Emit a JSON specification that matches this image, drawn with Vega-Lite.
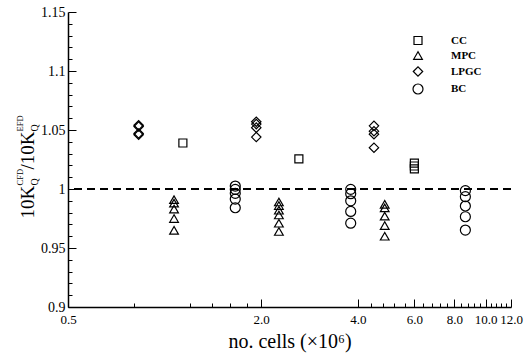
{
  "$schema": "https://vega.github.io/schema/vega-lite/v6.json",
  "width": 443,
  "height": 295,
  "autosize": {"type": "none"},
  "padding": {"left": 68, "top": 12, "right": 16, "bottom": 53},
  "config": {
    "view": {"stroke": null},
    "font": "Liberation Serif",
    "axis": {
      "domainColor": "black",
      "domainWidth": 1.5,
      "tickColor": "black",
      "tickWidth": 1,
      "grid": false,
      "labelFont": "Liberation Serif",
      "labelColor": "black",
      "titleFont": "Liberation Serif",
      "titleColor": "black",
      "titleFontWeight": "normal"
    },
    "legend": {"labelFont": "Liberation Serif"}
  },
  "data": {
    "values": [
      {"cells": 0.83, "ratio": 1.054, "method": "LPGC"},
      {"cells": 0.83, "ratio": 1.053, "method": "LPGC"},
      {"cells": 0.83, "ratio": 1.047, "method": "LPGC"},
      {"cells": 0.83, "ratio": 1.046, "method": "LPGC"},
      {"cells": 1.14, "ratio": 1.039, "method": "CC"},
      {"cells": 1.07, "ratio": 0.991, "method": "MPC"},
      {"cells": 1.07, "ratio": 0.988, "method": "MPC"},
      {"cells": 1.07, "ratio": 0.983, "method": "MPC"},
      {"cells": 1.07, "ratio": 0.975, "method": "MPC"},
      {"cells": 1.07, "ratio": 0.965, "method": "MPC"},
      {"cells": 1.66, "ratio": 1.0025, "method": "BC"},
      {"cells": 1.66, "ratio": 0.9997, "method": "BC"},
      {"cells": 1.66, "ratio": 0.9963, "method": "BC"},
      {"cells": 1.66, "ratio": 0.9915, "method": "BC"},
      {"cells": 1.66, "ratio": 0.9841, "method": "BC"},
      {"cells": 1.93, "ratio": 1.057, "method": "LPGC"},
      {"cells": 1.93, "ratio": 1.055, "method": "LPGC"},
      {"cells": 1.93, "ratio": 1.052, "method": "LPGC"},
      {"cells": 1.93, "ratio": 1.044, "method": "LPGC"},
      {"cells": 2.62, "ratio": 1.0255, "method": "CC"},
      {"cells": 2.27, "ratio": 0.989, "method": "MPC"},
      {"cells": 2.27, "ratio": 0.986, "method": "MPC"},
      {"cells": 2.27, "ratio": 0.982, "method": "MPC"},
      {"cells": 2.27, "ratio": 0.978, "method": "MPC"},
      {"cells": 2.27, "ratio": 0.971, "method": "MPC"},
      {"cells": 2.27, "ratio": 0.964, "method": "MPC"},
      {"cells": 3.8, "ratio": 0.9997, "method": "BC"},
      {"cells": 3.8, "ratio": 0.996, "method": "BC"},
      {"cells": 3.8, "ratio": 0.99, "method": "BC"},
      {"cells": 3.8, "ratio": 0.981, "method": "BC"},
      {"cells": 3.8, "ratio": 0.971, "method": "BC"},
      {"cells": 4.49, "ratio": 1.0535, "method": "LPGC"},
      {"cells": 4.49, "ratio": 1.049, "method": "LPGC"},
      {"cells": 4.49, "ratio": 1.0465, "method": "LPGC"},
      {"cells": 4.49, "ratio": 1.035, "method": "LPGC"},
      {"cells": 4.85, "ratio": 0.987, "method": "MPC"},
      {"cells": 4.85, "ratio": 0.984, "method": "MPC"},
      {"cells": 4.85, "ratio": 0.977, "method": "MPC"},
      {"cells": 4.85, "ratio": 0.969, "method": "MPC"},
      {"cells": 4.85, "ratio": 0.96, "method": "MPC"},
      {"cells": 6.0, "ratio": 1.022, "method": "CC"},
      {"cells": 6.0, "ratio": 1.0195, "method": "CC"},
      {"cells": 6.0, "ratio": 1.017, "method": "CC"},
      {"cells": 8.65, "ratio": 0.9986, "method": "BC"},
      {"cells": 8.65, "ratio": 0.9935, "method": "BC"},
      {"cells": 8.65, "ratio": 0.9856, "method": "BC"},
      {"cells": 8.65, "ratio": 0.9765, "method": "BC"},
      {"cells": 8.65, "ratio": 0.9652, "method": "BC"}
    ]
  },
  "layer": [
    {
      "mark": {"type": "rule", "strokeDash": [8, 5], "strokeWidth": 2, "color": "black"},
      "encoding": {
        "y": {"datum": 1, "type": "quantitative", "axis": null}
      }
    },
    {
      "mark": {"type": "point", "filled": false, "color": "black", "strokeWidth": 1.2, "opacity": 1},
      "encoding": {
        "x": {
          "field": "cells",
          "type": "quantitative",
          "scale": {"type": "log", "domain": [0.5, 12], "nice": false},
          "axis": {
            "orient": "bottom",
            "values": [0.5, 2, 4, 6, 8, 10, 12],
            "format": ".1f",
            "ticks": false,
            "tickSize": 0,
            "labelPadding": 6,
            "labelFont": "Liberation Serif",
            "labelFontSize": 13,
            "labelColor": "black",
            "labelFlush": false,
            "labelOverlap": false,
            "title": "no. cells (×10⁶)",
            "titleFont": "Liberation Serif",
            "titleFontSize": 20,
            "titleColor": "black",
            "titlePadding": 5
          }
        },
        "y": {
          "field": "ratio",
          "type": "quantitative",
          "scale": {"domain": [0.9, 1.15], "nice": false, "zero": false},
          "axis": {
            "orient": "left",
            "values": [0.9, 0.95, 1, 1.05, 1.1, 1.15],
            "format": "~g",
            "ticks": false,
            "tickSize": 0,
            "labelPadding": 3,
            "labelFont": "Liberation Serif",
            "labelFontSize": 14,
            "labelColor": "black",
            "labelOverlap": false,
            "labelFlush": false,
            "title": "10K",
            "titleFont": "Liberation Serif",
            "titleFontSize": 19,
            "titleAngle": 270,
            "titleAlign": "left",
            "titleBaseline": "alphabetic",
            "titleX": -35,
            "titleY": 206
          }
        },
        "shape": {
          "field": "method",
          "type": "nominal",
          "scale": {"domain": ["CC", "MPC", "LPGC", "BC"], "range": ["square", "triangle-up", "diamond", "circle"]},
          "legend": {
            "title": null,
            "orient": "none",
            "legendX": 344,
            "legendY": 23,
            "padding": 0,
            "rowPadding": 2,
            "labelFont": "Liberation Serif",
            "labelFontSize": 11,
            "labelFontWeight": "bold",
            "labelColor": "black",
            "labelOffset": 27,
            "symbolStrokeColor": "black",
            "symbolStrokeWidth": 1.2,
            "symbolFillColor": "transparent"
          }
        },
        "size": {
          "field": "method",
          "type": "nominal",
          "scale": {"domain": ["CC", "MPC", "LPGC", "BC"], "range": [64, 100, 121, 140]}
        }
      }
    },
    {
      "mark": {"type": "rule", "opacity": 0},
      "encoding": {
        "x": {"datum": 1, "type": "quantitative", "axis": {"orient": "bottom", "values": [0.5, 2, 4, 6, 8, 10, 12], "domain": false, "labels": false, "tickSize": -8, "tickColor": "black", "title": null}},
        "y": {"datum": 1, "type": "quantitative", "axis": {"orient": "left", "values": [0.9, 0.95, 1, 1.05, 1.1, 1.15], "domain": false, "labels": false, "tickSize": -8, "tickColor": "black", "title": "Q", "titleFont": "Liberation Serif", "titleFontSize": 10, "titleAngle": 270, "titleAlign": "left", "titleBaseline": "alphabetic", "titleX": -31, "titleY": 173}}
      }
    },
    {
      "mark": {"type": "rule", "opacity": 0},
      "encoding": {
        "x": {"datum": 1, "type": "quantitative", "axis": {"orient": "bottom", "values": [0.8, 1.2, 1.4, 1.6, 1.8, 4.4, 4.8, 5.2, 5.6, 6.4, 6.8, 7.2, 7.6, 8.4, 8.8, 9.2, 9.6, 10.4, 10.8, 11.2, 11.6], "domain": false, "labels": false, "tickSize": -4, "tickColor": "black", "title": null}},
        "y": {"datum": 1, "type": "quantitative", "axis": {"orient": "left", "values": [0.91, 0.92, 0.93, 0.94, 0.96, 0.97, 0.98, 0.99, 1.01, 1.02, 1.03, 1.04, 1.06, 1.07, 1.08, 1.09, 1.11, 1.12, 1.13, 1.14], "domain": false, "labels": false, "tickSize": -4, "tickColor": "black", "title": "CFD", "titleFont": "Liberation Serif", "titleFontSize": 8.5, "titleAngle": 270, "titleAlign": "left", "titleBaseline": "alphabetic", "titleX": -46, "titleY": 173}}
      }
    },
    {
      "mark": {"type": "rule", "opacity": 0},
      "encoding": {"y": {"datum": 1, "type": "quantitative", "axis": {"orient": "left", "domain": false, "ticks": false, "labels": false, "title": "/10K", "titleFont": "Liberation Serif", "titleFontSize": 19, "titleAngle": 270, "titleAlign": "left", "titleBaseline": "alphabetic", "titleX": -35, "titleY": 157}}}
    },
    {
      "mark": {"type": "rule", "opacity": 0},
      "encoding": {"y": {"datum": 1, "type": "quantitative", "axis": {"orient": "left", "domain": false, "ticks": false, "labels": false, "title": "Q", "titleFont": "Liberation Serif", "titleFontSize": 10, "titleAngle": 270, "titleAlign": "left", "titleBaseline": "alphabetic", "titleX": -31, "titleY": 119}}}
    },
    {
      "mark": {"type": "rule", "opacity": 0},
      "encoding": {"y": {"datum": 1, "type": "quantitative", "axis": {"orient": "left", "domain": false, "ticks": false, "labels": false, "title": "EFD", "titleFont": "Liberation Serif", "titleFontSize": 8.5, "titleAngle": 270, "titleAlign": "left", "titleBaseline": "alphabetic", "titleX": -46, "titleY": 119}}}
    }
  ],
  "resolve": {"axis": {"x": "independent", "y": "independent"}}
}
